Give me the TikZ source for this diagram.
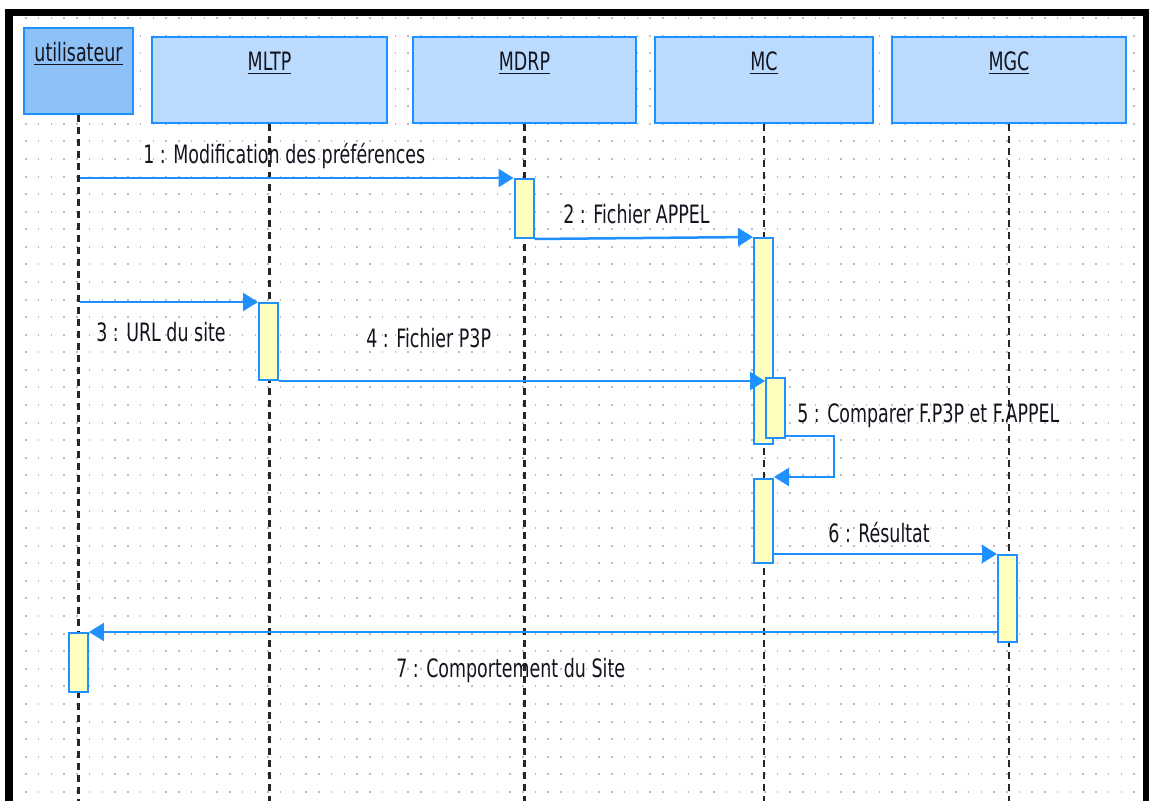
\documentclass[tikz,border=0pt]{standalone}
\usepackage{fontspec}
\setmainfont{DejaVu Sans}[FakeStretch=0.69]
\usetikzlibrary{arrows.meta, positioning}
\definecolor{umlblue}{HTML}{1E90FF}
\definecolor{objfill}{HTML}{BBDBFE}
\definecolor{actorfill}{HTML}{8EC1F7}
\definecolor{actfill}{HTML}{FFFFBE}
\definecolor{gridgray}{HTML}{BDBDBD}
\definecolor{inkdark}{HTML}{14141E}
\newcommand{\umlfont}{\fontsize{14.4pt}{17pt}\selectfont}
\tikzset{
  objbox/.style={rectangle, draw=umlblue, fill=#1, line width=0.05cm,
                 minimum height=1.72cm, inner sep=0pt},
  objbox/.default=objfill,
  objlbl/.style={anchor=base, inner sep=0pt, text=inkdark, font=\umlfont,
                 yshift=-0.7cm},
  actbox/.style={rectangle, draw=umlblue, fill=actfill, line width=0.04cm,
                 minimum width=0.38cm, inner sep=0pt, anchor=north},
  lifeline/.style={draw=black!85, line width=0.045cm,
                   dash pattern=on 0.14cm off 0.1cm},
  msg/.style={-{Triangle[length=0.3cm, width=0.36cm]}, draw=umlblue,
              line width=0.05cm},
  msglbl/.style={anchor=base west, inner sep=0pt, text=inkdark, font=\umlfont},
}

\begin{document}
\begin{tikzpicture}[x=0.02cm, y=-0.02cm]
  \useasboundingbox (0,0) rectangle (1149,801);
  \fill[white] (0,0) rectangle (1149,801);

  \foreach \r in {0,...,44}
    \draw[gridgray, line width=0.04cm, dash pattern=on 0.03cm off 0.2248cm]
      (25.25,{18.3+17.58*\r}) -- (1136,{18.3+17.58*\r});

  \draw[line width=0.15cm, line join=miter]
    (9,801) -- (9,12.5) -- (1146.5,12.5) -- (1146.5,801);

  \node[objbox=actorfill, minimum width=2.18cm,
        label={[objlbl]north:\underline{utilisateur}}] (user) at (78.5,71) {};
  \node[objbox, minimum width=4.7cm,
        label={[objlbl]north:\underline{MLTP}}] (mltp) at (269.5,80) {};
  \node[objbox, minimum width=4.46cm,
        label={[objlbl]north:\underline{MDRP}}] (mdrp) at (524.5,80) {};
  \node[objbox, minimum width=4.36cm,
        label={[objlbl]north:\underline{MC}}] (mc) at (764,80) {};
  \node[objbox, minimum width=4.68cm,
        label={[objlbl]north:\underline{MGC}}] (mgc) at (1009,80) {};

  \coordinate (bottom) at (0,801);
  \foreach \o in {user, mltp, mdrp, mc, mgc}
    \draw[lifeline] (\o.south) -- (\o.south |- bottom);

  \node[actbox, minimum height=1.18cm] (aMDRP) at (524,178) {};
  \node[actbox, minimum height=4.12cm] (aMC1) at (763.5,237) {};
  \node[actbox, minimum height=1.54cm] (aMLTP) at (268.5,302) {};
  \node[actbox, minimum height=1.2cm] (aMC2) at (775.5,377) {};
  \node[actbox, minimum height=1.68cm] (aMC3) at (763.5,478) {};
  \node[actbox, minimum height=1.74cm] (aMGC) at (1007.5,554) {};
  \node[actbox, minimum height=1.18cm] (aUser) at (78.5,632) {};

  \coordinate (m1start) at (80,178);
  \coordinate (m3start) at (80,302);
  \coordinate (m5turn) at (834,477);

  \draw[msg] (m1start) -- (aMDRP.north west);
  \draw[msg] (aMDRP.south east) -- (aMC1.north west);
  \draw[msg] (m3start) -- (aMLTP.north west);
  \draw[msg] (aMLTP.south east) -- (aMLTP.south east -| aMC2.west);
  \draw[msg] ([yshift=0.06cm]aMC2.south east) -| (m5turn)
             -- (aMC3.north east |- m5turn);
  \draw[msg] (aMC3.east |- aMGC.north west) -- (aMGC.north west);
  \draw[msg] (aMGC.west |- aUser.north east) -- (aUser.north east);

  \node[msglbl] (l1) at (143,163) {1 : Modification des préférences};
  \node[msglbl] (l2) at (563,223) {2 : Fichier APPEL};
  \node[msglbl] (l3) at (96,341) {3 : URL du site};
  \node[msglbl] (l4) at (366,347) {4 : Fichier P3P};
  \node[msglbl] (l5) at (797,422) {5 : Comparer F.P3P et F.APPEL};
  \node[msglbl] (l6) at (828,542) {6 : Résultat};
  \node[msglbl] (l7) at (396,677) {7 : Comportement du Site};
\end{tikzpicture}
\end{document}
